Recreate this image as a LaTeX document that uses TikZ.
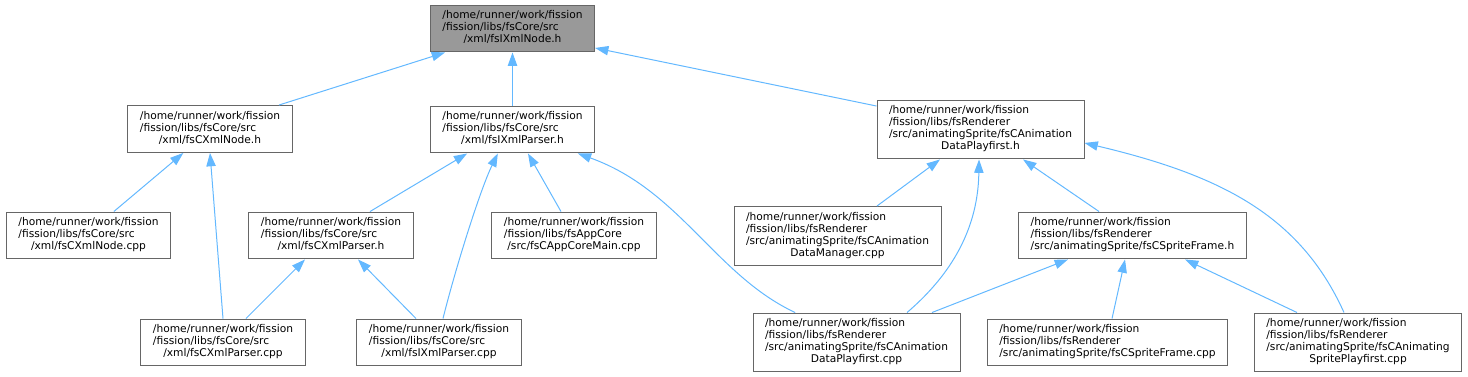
\documentclass[tikz,border=0pt]{standalone}
\usepackage{fontspec}
\setmainfont{DejaVu Sans}
\usetikzlibrary{arrows.meta}
\definecolor{edgeblue}{HTML}{63B8FF}
\definecolor{boxgray}{HTML}{666666}
\definecolor{rootfill}{HTML}{999999}
\newcommand{\flbl}[2]{\begin{tabular}{@{}l@{}}#1\\\multicolumn{1}{@{}c@{}}{#2}\end{tabular}}
\tikzset{
  filebox/.style={draw=boxgray, line width=.75pt, fill=white, inner xsep=9pt, inner ysep=4.1pt,
    font=\fontsize{8}{9}\selectfont},
  dep/.style={draw=edgeblue, line width=.75pt, -{Triangle[length=10pt,width=7pt]}},
}
\begin{document}
\begin{tikzpicture}[x=.75pt, y=-.75pt]
\useasboundingbox (0,0) rectangle (1468,377);

\node[filebox, fill=rootfill] (root) at (512.5,28.5) {\flbl{/home/runner/work/fission\\/fission/libs/fsCore/src}{/xml/fsIXmlNode.h}};

\node[filebox] (xnodeh) at (210,129) {\flbl{/home/runner/work/fission\\/fission/libs/fsCore/src}{/xml/fsCXmlNode.h}};
\node[filebox] (iparserh) at (512.5,129.5) {\flbl{/home/runner/work/fission\\/fission/libs/fsCore/src}{/xml/fsIXmlParser.h}};
\node[filebox] (playh) at (980.5,129.5) {\flbl{/home/runner/work/fission\\/fission/libs/fsRenderer\\/src/animatingSprite/fsCAnimation}{DataPlayfirst.h}};

\node[filebox] (xnodecpp) at (88.5,235.5) {\flbl{/home/runner/work/fission\\/fission/libs/fsCore/src}{/xml/fsCXmlNode.cpp}};
\node[filebox] (cparserh) at (331,235.5) {\flbl{/home/runner/work/fission\\/fission/libs/fsCore/src}{/xml/fsCXmlParser.h}};
\node[filebox] (appmain) at (574,235.5) {\flbl{/home/runner/work/fission\\/fission/libs/fsAppCore}{/src/fsCAppCoreMain.cpp}};
\node[filebox] (manager) at (837.5,236) {\flbl{/home/runner/work/fission\\/fission/libs/fsRenderer\\/src/animatingSprite/fsCAnimation}{DataManager.cpp}};
\node[filebox] (spriteh) at (1132.5,235.5) {\flbl{/home/runner/work/fission\\/fission/libs/fsRenderer}{/src/animatingSprite/fsCSpriteFrame.h}};

\node[filebox] (cparsercpp) at (223,342.5) {\flbl{/home/runner/work/fission\\/fission/libs/fsCore/src}{/xml/fsCXmlParser.cpp}};
\node[filebox] (iparsercpp) at (439,342.5) {\flbl{/home/runner/work/fission\\/fission/libs/fsCore/src}{/xml/fsIXmlParser.cpp}};
\node[filebox] (playcpp) at (856.5,342.5) {\flbl{/home/runner/work/fission\\/fission/libs/fsRenderer\\/src/animatingSprite/fsCAnimation}{DataPlayfirst.cpp}};
\node[filebox] (spritecpp) at (1107.5,342.5) {\flbl{/home/runner/work/fission\\/fission/libs/fsRenderer}{/src/animatingSprite/fsCSpriteFrame.cpp}};
\node[filebox] (spriteplaycpp) at (1358,342.5) {\flbl{/home/runner/work/fission\\/fission/libs/fsRenderer\\/src/animatingSprite/fsCAnimating}{SpritePlayfirst.cpp}};

% includes of fsIXmlNode.h
\draw[dep] ([xshift=51.75pt]xnodeh.north) -- ([xshift=-50.6pt]root.south);
\draw[dep] (iparserh.north) -- (root.south);
\draw[dep] ([yshift=17.6pt]playh.west) -- ([yshift=-14.6pt]root.east);

% fsCXmlNode.h
\draw[dep] ([xshift=19pt]xnodecpp.north) -- ([xshift=-20pt]xnodeh.south);
\draw[dep] (cparsercpp.north) -- (xnodeh.south);

% fsIXmlParser.h
\draw[dep] ([xshift=29.25pt]cparserh.north) -- ([xshift=-34pt]iparserh.south);
\draw[dep] ([xshift=3pt]iparsercpp.north) .. controls (455,270) and (480,190) .. ([xshift=-11pt]iparserh.south);
\draw[dep] ([xshift=-9.75pt]appmain.north) -- ([xshift=11.6pt]iparserh.south);
\draw[dep] ([xshift=-46pt]playcpp.north) .. controls (715,275) and (680,190) .. ([xshift=49pt]iparserh.south);

% fsCXmlParser.h
\draw[dep] ([xshift=17.25pt]cparsercpp.north) -- ([xshift=-19.5pt]cparserh.south);
\draw[dep] ([xshift=-17.25pt]iparsercpp.north) -- ([xshift=20.25pt]cparserh.south);

% fsCAnimationDataPlayfirst.h
\draw[dep] ([xshift=29.6pt]manager.north) -- ([xshift=-30.4pt]playh.south);
\draw[dep] ([xshift=37.9pt]playcpp.north) .. controls (945,280) and (978,235) .. ([xshift=-1.1pt]playh.south);
\draw[dep] ([xshift=-25.1pt]spriteh.north) -- ([xshift=31.9pt]playh.south);
\draw[dep] ([xshift=-10.5pt]spriteplaycpp.north) .. controls (1300,215) and (1220,175) .. ([yshift=-10.1pt]playh.east);

% fsCSpriteFrame.h
\draw[dep] ([xshift=56.6pt]playcpp.north) -- ([xshift=-48.4pt]spriteh.south);
\draw[dep] ([xshift=3.4pt]spritecpp.north) -- ([xshift=-5.6pt]spriteh.south);
\draw[dep] ([xshift=-45.75pt]spriteplaycpp.north) -- ([xshift=39.4pt]spriteh.south);

\end{tikzpicture}
\end{document}
